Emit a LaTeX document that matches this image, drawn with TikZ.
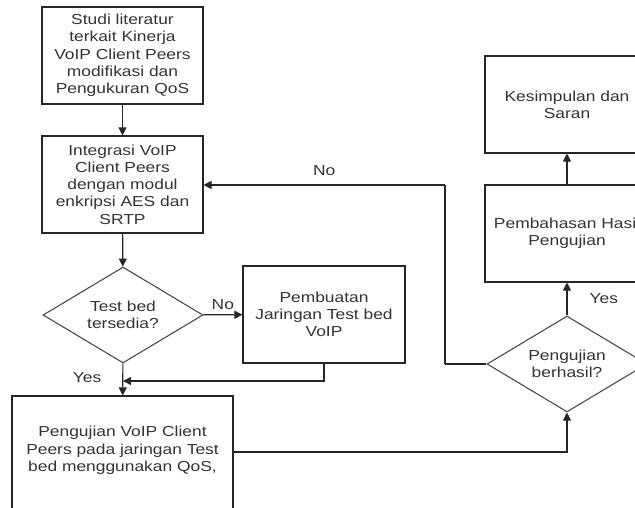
\documentclass[tikz,border=0pt]{standalone}
\usepackage{fontspec}
\setmainfont{Liberation Sans}[FakeStretch=1.2]
\usetikzlibrary{shapes.geometric,arrows.meta}
\begin{document}
\begin{tikzpicture}[x=1pt,y=-1pt,
  every node/.style={font=\fontsize{14.5}{17.3}\selectfont, text=black!80},
  procbox/.style={draw=black!85, line width=1.1pt, align=center, inner sep=0pt},
  decision/.style={diamond, draw=black!70, line width=1.1pt, align=center, inner sep=0pt,
    minimum width=160pt, minimum height=96pt, aspect=1.667},
  flow/.style={draw=black!85, line width=1.1pt, -{Triangle[length=8pt,width=8pt]}},
  plain/.style={draw=black!85, line width=1.1pt},
  lbl/.style={inner sep=0pt}]
\useasboundingbox (0,0) rectangle (635,508);
\clip (0,0) rectangle (635,508);

% left column
\node[procbox, minimum width=161pt, minimum height=97pt] (studi) at (122.5,55.5)
  {Studi literatur\\terkait Kinerja\\VoIP Client Peers\\modifikasi dan\\Pengukuran QoS};
\node[procbox, minimum width=161pt, minimum height=97pt] (integ) at (122.5,184.5)
  {Integrasi VoIP\\Client Peers\\dengan modul\\enkripsi AES dan\\SRTP};
\node[decision] (tb) at (123,315) {Test bed\\tersedia?};
\node[procbox, minimum width=162pt, minimum height=97pt] (buat) at (324,314.5)
  {Pembuatan\\Jaringan Test bed\\VoIP};
\node[procbox, minimum width=221pt, minimum height=128pt] (uji) at (122.5,460)
  {Pengujian VoIP Client\\Peers pada jaringan Test\\bed menggunakan QoS,\\\strut};

% right column
\node[decision] (hasil) at (567,364) {Pengujian\\berhasil?};
\node[procbox, minimum width=164pt, minimum height=97pt] (bahas) at (567,233.5)
  {Pembahasan Hasil\\Pengujian};
\node[procbox, minimum width=164pt, minimum height=97pt] (simpul) at (567,104.5)
  {Kesimpulan dan\\Saran};

% connectors
\draw[flow] (studi) -- (integ);
\draw[flow] (integ) -- (tb);
\draw[flow] (tb) -- node[lbl, above=5pt] {No} (buat);
\draw[flow] (tb) -- node[lbl, pos=0.45, left=21pt] {Yes} (uji);
\coordinate (join) at (123,381);
\draw[flow] (buat.south) |- (join);
\coordinate (loopx) at (445,364);
\draw[plain] (hasil.west) -- (loopx);
\coordinate (loopy) at (445,185);
\draw[plain] (loopx) -- (loopy);
\draw[flow] (loopy) -- node[lbl, pos=0.5, above=9pt] {No} (integ.east |- loopy);
\coordinate (ujiout) at (233,452);
\draw[flow] (ujiout) -| (hasil.south);
\draw[flow] (hasil) -- node[lbl, right=22pt] {Yes} (bahas);
\draw[flow] (bahas) -- (simpul);
\end{tikzpicture}
\end{document}
